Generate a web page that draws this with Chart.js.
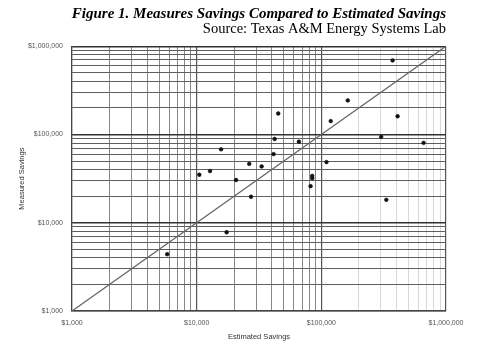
<!DOCTYPE html>
<html>
<head>
<meta charset="utf-8">
<script src="https://cdn.jsdelivr.net/npm/chart.js@4"></script>
<style>
  html, body { margin: 0; padding: 0; background: #fff; }
</style>
</head>
<body>
<canvas id="savingsChart" width="480" height="360"></canvas>
<script>
// values (dollars)
const estimated = [5800, 10500, 12800, 15700, 17400, 20700, 26400, 27300, 33200, 41400, 42200, 45100,
                   66100, 82000, 84500, 84500, 110000, 119000, 163000, 302000, 332000, 373000, 409000, 661000];
const measured  = [4400, 35000, 38500, 68000, 7800, 30500, 46500, 19700, 43500, 60000, 89000, 173000,
                   83000, 26000, 32000, 34000, 48700, 142000, 243000, 94000, 18200, 690000, 161000, 80500];

// y = x reference line, drawn across the axis range
const parityLine = [1000, 1000000];

const decades = [1000, 10000, 100000, 1000000];
const tickLabels = ['$1,000', '$10,000', '$100,000', '$1,000,000'];

// log paper: every 1..9 step inside each decade
function logPaperTicks() {
    const out = [];
    decades.forEach((d, i) => {
        if (i === decades.length - 1) { out.push(d); return; }
        for (let m = 1; m < 10; m++) out.push(d * m);
    });
    return out;
}

function isDecade(v) {
    return decades.indexOf(v) >= 0;
}

function labelFor(value) {
    const i = decades.indexOf(value);
    return i >= 0 ? tickLabels[i] : '';
}

const points = estimated.map((x, i) => ({ x: x, y: measured[i] }));

const tickFont = { family: 'Liberation Sans', size: 7 };
const axisTitleFont = { family: 'Liberation Sans', size: 7.5 };

new Chart(document.getElementById('savingsChart').getContext('2d'), {
    type: 'scatter',
    data: {
        datasets: [
            {
                data: points,
                pointRadius: 1.9,
                pointBackgroundColor: '#111',
                pointBorderColor: '#111',
                pointBorderWidth: 0.5
            },
            {
                data: parityLine.map(v => ({ x: v, y: v })),
                showLine: true,
                borderColor: '#666',
                borderWidth: 1.3,
                pointRadius: 0
            }
        ]
    },
    options: {
        responsive: false,
        animation: false,
        layout: { padding: { top: 0, right: 34, bottom: 0, left: 0 } },
        plugins: {
            legend: { display: false },
            tooltip: { enabled: false },
            title: {
                display: true,
                text: 'Figure 1. Measures Savings Compared to Estimated Savings',
                align: 'end',
                color: '#000',
                font: { family: 'Liberation Serif', size: 15, weight: 'bold', style: 'italic', lineHeight: 1 },
                padding: { top: 7, bottom: 0 }
            },
            subtitle: {
                display: true,
                text: 'Source: Texas A&M Energy Systems Lab',
                align: 'end',
                color: '#000',
                font: { family: 'Liberation Serif', size: 14.5, lineHeight: 0.5 },
                padding: { top: 4, bottom: 13 }
            }
        },
        scales: {
            x: {
                type: 'logarithmic',
                min: 1000,
                max: 1000000,
                afterBuildTicks: s => { s.ticks = logPaperTicks().map(v => ({ value: v, major: isDecade(v) })); },
                afterFit: s => { s.height = 49; },
                ticks: {
                    autoSkip: false,
                    maxRotation: 0,
                    padding: 8,
                    color: '#555',
                    font: tickFont,
                    callback: v => labelFor(v)
                },
                grid: {
                    drawTicks: false,
                    color: ctx => {
                        const v = ctx.tick ? ctx.tick.value : 0;
                        if (isDecade(v)) return '#555';
                        return v > 100000 ? '#d4d4d4' : '#7a7a7a';
                    },
                    lineWidth: ctx => (ctx.tick && isDecade(ctx.tick.value)) ? 1.2 : 0.9
                },
                border: { color: '#444', width: 1.2 },
                title: {
                    display: true,
                    text: 'Estimated Savings',
                    color: '#333',
                    font: axisTitleFont,
                    padding: { top: 4, bottom: 19 }
                }
            },
            y: {
                type: 'logarithmic',
                min: 1000,
                max: 1000000,
                afterBuildTicks: s => { s.ticks = logPaperTicks().map(v => ({ value: v, major: isDecade(v) })); },
                afterFit: s => { s.width = 72; },
                ticks: {
                    autoSkip: false,
                    padding: 9,
                    color: '#555',
                    font: tickFont,
                    callback: v => labelFor(v)
                },
                grid: {
                    drawTicks: false,
                    color: ctx => (ctx.tick && isDecade(ctx.tick.value)) ? '#333' : '#5e5e5e',
                    lineWidth: ctx => (ctx.tick && isDecade(ctx.tick.value)) ? 1.4 : 1
                },
                border: { color: '#444', width: 1.2 },
                title: {
                    display: true,
                    text: 'Measured Savings',
                    color: '#333',
                    font: axisTitleFont,
                    padding: { top: 17, bottom: 4 }
                }
            }
        }
    }
});
</script>
</body>
</html>
